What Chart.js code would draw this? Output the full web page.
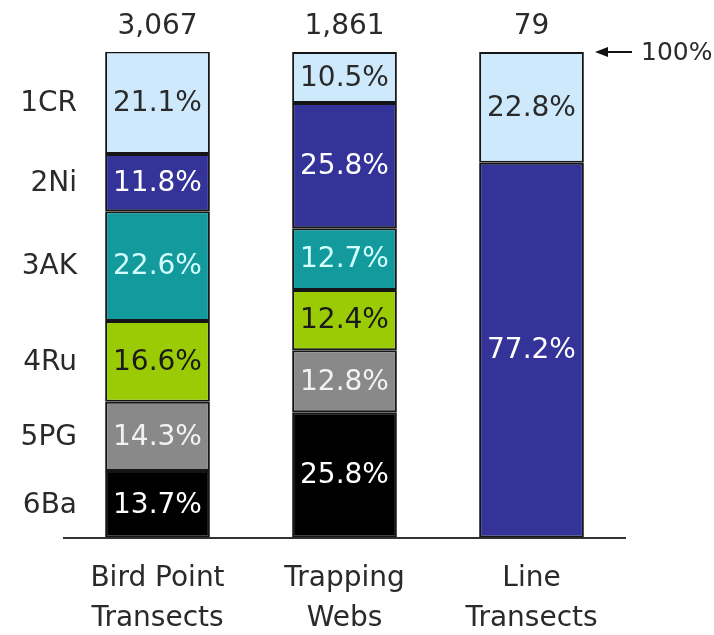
<!DOCTYPE html>
<html>
<head>
<meta charset="utf-8">
<title>Detecciones por metodo</title>
<script src="https://cdn.jsdelivr.net/npm/chart.js@4.4.1/dist/chart.umd.min.js"></script>
<style>
    html, body { margin: 0; padding: 0; background: #fff; }
    #contenedor { width: 714px; height: 635px; }
</style>
</head>
<body>
<div id="contenedor"><canvas id="graficoMetodos"></canvas></div>
<script>
const metodos = [["Bird Point", "Transects"], ["Trapping", "Webs"], ["Line", "Transects"]];
const totales = [3067, 1861, 79];

const grupos = ["1CR", "2Ni", "3AK", "4Ru", "5PG", "6Ba"];
const porc1CR = [21.1, 10.5, 22.8];
const porc2Ni = [11.8, 25.8, 77.2];
const porc3AK = [22.6, 12.7, null];
const porc4Ru = [16.6, 12.4, null];
const porc5PG = [14.3, 12.8, null];
const porc6Ba = [13.7, 25.8, null];

const coloresRelleno = ["#cde9fb", "#333399", "#139a9d", "#9acb05", "#898989", "#000000"];
const coloresTexto = ["#2a2a2a", "#ffffff", "#d4ffff", "#1a1a1a", "#f2f2f2", "#ffffff"];

const fuente = "'DejaVu Sans', sans-serif";

const series = [porc1CR, porc2Ni, porc3AK, porc4Ru, porc5PG, porc6Ba];

// se apilan de abajo (6Ba) hacia arriba (1CR)
const datasets = series.map((datos, i) => ({
    label: grupos[i],
    data: datos,
    backgroundColor: coloresRelleno[i],
    borderColor: "#151515",
    borderWidth: 2,
    borderSkipped: false,
    barPercentage: 0.56,
    categoryPercentage: 1,
    grupo: i
})).reverse();

// etiquetas de porcentaje, grupos a la izquierda, totales y la marca de 100%
const etiquetasPlugin = {
    id: "etiquetas",
    afterDatasetsDraw(chart) {
        const ctx = chart.ctx;
        const x = chart.scales.x;
        const y = chart.scales.y;
        ctx.save();
        ctx.font = "28px " + fuente;
        ctx.textBaseline = "middle";

        chart.data.datasets.forEach((ds, i) => {
            const meta = chart.getDatasetMeta(i);
            const g = ds.grupo;
            meta.data.forEach((el, j) => {
                const v = ds.data[j];
                if (v == null) return;
                ctx.fillStyle = coloresTexto[g];
                ctx.textAlign = "center";
                ctx.fillText(v.toFixed(1) + "%", el.x, (el.y + el.base) / 2 + 1);
            });
            // nombre del grupo alineado con el primer metodo
            const primero = meta.data[0];
            ctx.fillStyle = "#2a2a2a";
            ctx.textAlign = "right";
            ctx.fillText(grupos[g], 77, (primero.y + primero.base) / 2 + 1);
        });

        ctx.fillStyle = "#2a2a2a";
        ctx.textAlign = "center";
        totales.forEach((t, j) => {
            ctx.fillText(t.toLocaleString("en-US"), x.getPixelForValue(j), 27);
        });

        const y100 = y.getPixelForValue(100);
        ctx.strokeStyle = "#111";
        ctx.fillStyle = "#111";
        ctx.lineWidth = 2;
        ctx.beginPath();
        ctx.moveTo(606, y100);
        ctx.lineTo(632, y100);
        ctx.stroke();
        ctx.beginPath();
        ctx.moveTo(595, y100);
        ctx.lineTo(608, y100 - 5);
        ctx.lineTo(608, y100 + 5);
        ctx.closePath();
        ctx.fill();
        ctx.font = "25px " + fuente;
        ctx.fillStyle = "#2a2a2a";
        ctx.textAlign = "left";
        ctx.fillText("100%", 641, y100 + 1);
        ctx.restore();
    }
};

new Chart(document.getElementById("graficoMetodos"), {
    type: "bar",
    data: {
        labels: metodos,
        datasets: datasets
    },
    options: {
        responsive: true,
        maintainAspectRatio: false,
        animation: false,
        layout: { padding: { left: 64, right: 89, top: 52, bottom: -25 } },
        plugins: {
            legend: { display: false },
            tooltip: { enabled: false }
        },
        scales: {
            x: {
                stacked: true,
                grid: { display: false, drawTicks: false },
                border: { display: true, color: "#333", width: 2 },
                ticks: {
                    color: "#2a2a2a",
                    padding: 22,
                    maxRotation: 0,
                    font: { family: fuente, size: 28, lineHeight: 1.4 }
                }
            },
            y: {
                stacked: true,
                display: false,
                min: 0,
                max: 100
            }
        }
    },
    plugins: [etiquetasPlugin]
});
</script>
</body>
</html>
